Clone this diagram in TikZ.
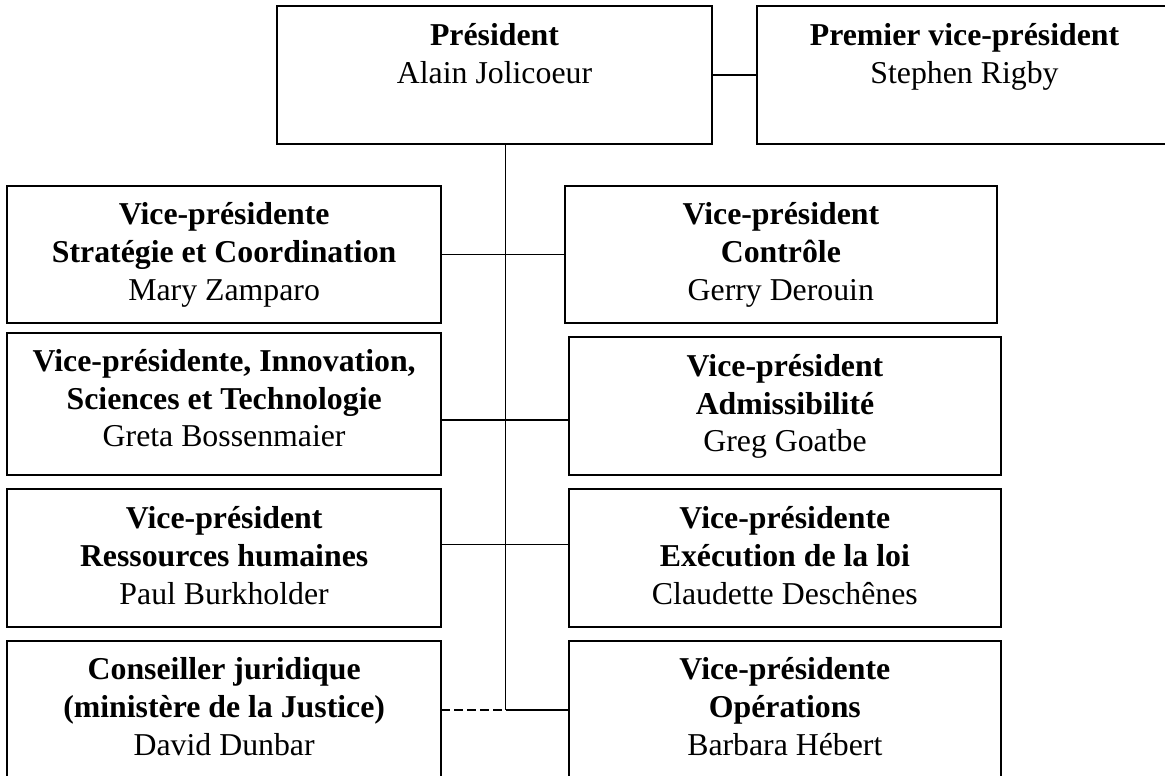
\documentclass[tikz,border=0pt]{standalone}
\usepackage{fontspec}
\setmainfont{Liberation Serif}
\begin{document}
\begin{tikzpicture}[x=1pt,y=-1pt,
  orgbox/.style={draw=black,line width=2pt,rectangle,inner sep=0pt,outer sep=0pt},
  orgtext/.style={align=center,inner sep=0pt,anchor=base,font=\fontsize{31.8}{37.7}\selectfont},
  link/.style={draw=black,line width=1.6pt},
  dlink/.style={draw=black,line width=1.6pt,dash pattern=on 8.5pt off 4.5pt}]
\useasboundingbox (0,0) rectangle (1165,776);
\fill[white] (0,0) rectangle (1165,776);
% boxes
\node[orgbox,minimum width=435pt,minimum height=138pt] (pres) at (494.5,75) {};
\node[orgbox,minimum width=413pt,minimum height=138pt] (prem) at (963.5,75) {};
\node[orgbox,minimum width=433.7pt,minimum height=137.6pt] (l1) at (224.15,254.5) {};
\node[orgbox,minimum width=433.7pt,minimum height=141.7pt] (l2) at (224.15,404.15) {};
\node[orgbox,minimum width=433.7pt,minimum height=138pt] (l3) at (224.15,558.3) {};
\node[orgbox,minimum width=433.7pt,minimum height=148.7pt] (l4) at (224.15,715.65) {};
\node[orgbox,minimum width=432.3pt,minimum height=137.6pt] (r1) at (780.85,254.5) {};
\node[orgbox,minimum width=432pt,minimum height=138.3pt] (r2) at (785,405.85) {};
\node[orgbox,minimum width=432.3pt,minimum height=138pt] (r3) at (784.85,558.3) {};
\node[orgbox,minimum width=432.3pt,minimum height=148.7pt] (r4) at (784.85,715.65) {};
% texts (anchored at the baseline of their last line)
\node[orgtext] (prest) at (494.5,83.3) {\textbf{Président}\\Alain Jolicoeur};
\node[orgtext] (premt) at (964.5,83.3) {\textbf{Premier vice-président}\\Stephen Rigby};
\node[orgtext] (l1t) at (224.15,300) {\textbf{Vice-présidente}\\\textbf{Stratégie et Coordination}\\Mary Zamparo};
\node[orgtext] (l2t) at (224.15,446.7) {\textbf{Vice-présidente, Innovation,}\\\textbf{Sciences et Technologie}\\Greta Bossenmaier};
\node[orgtext] (l3t) at (224.15,604) {\textbf{Vice-président}\\\textbf{Ressources humaines}\\Paul Burkholder};
\node[orgtext] (l4t) at (224.15,755) {\textbf{Conseiller juridique}\\\textbf{(ministère de la Justice)}\\David Dunbar};
\node[orgtext] (r1t) at (780.85,300) {\textbf{Vice-président}\\\textbf{Contrôle}\\Gerry Derouin};
\node[orgtext] (r2t) at (785,451.7) {\textbf{Vice-président}\\\textbf{Admissibilité}\\Greg Goatbe};
\node[orgtext] (r3t) at (784.85,604) {\textbf{Vice-présidente}\\\textbf{Exécution de la loi}\\Claudette Deschênes};
\node[orgtext] (r4t) at (784.85,755) {\textbf{Vice-présidente}\\\textbf{Opérations}\\Barbara Hébert};
% junctions on trunk
\coordinate (j1) at (505.5,254.5);
\coordinate (j2) at (505.5,420);
\coordinate (j3) at (505.5,544.3);
\coordinate (j4) at (505.5,710);
% connectors
\draw[link] (pres.east) -- (prem.west);
\draw[link] (pres.south -| j4) -- (j4);
\draw[link] (l1.east |- j1) -- (r1.west |- j1);
\draw[link] (l2.east |- j2) -- (r2.west |- j2);
\draw[link] (l3.east |- j3) -- (r3.west |- j3);
\draw[dlink] (l4.east |- j4) -- (j4);
\draw[link] (j4) -- (r4.west |- j4);
\end{tikzpicture}
\end{document}
